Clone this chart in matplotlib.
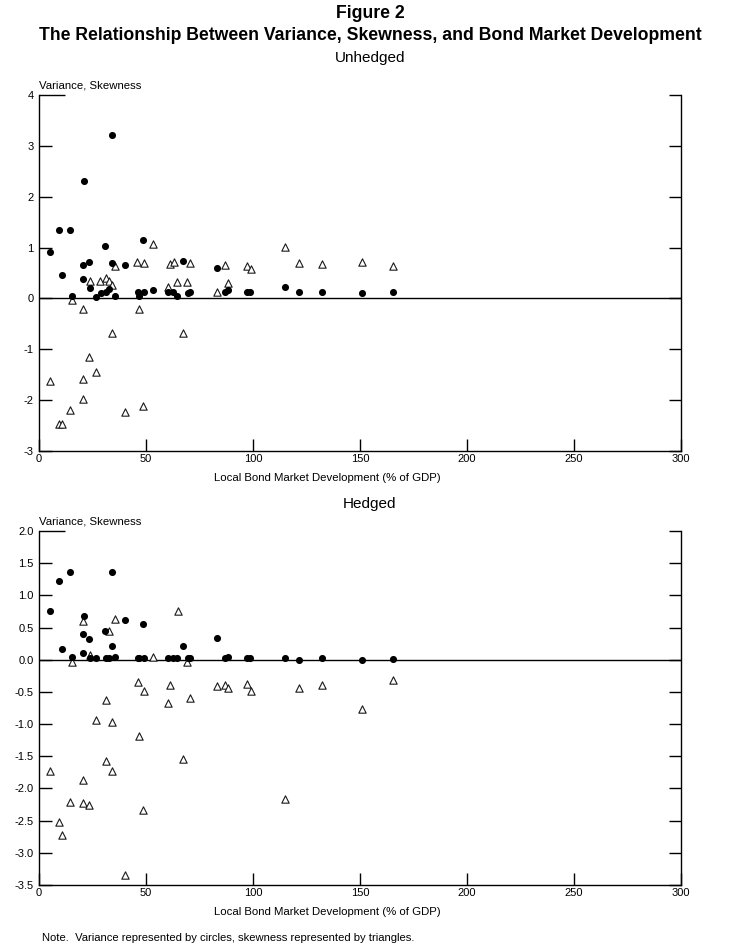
import matplotlib.pyplot as plt
import numpy as np

plt.rcParams['font.family'] = ['Liberation Sans', 'DejaVu Sans']

# unhedged: variance (circles)
unh_var_x = [5.3, 9.5, 10.6, 14.6, 15.3, 20.7, 20.7, 21.0, 23.4, 24.0, 26.8, 28.8, 31.0, 31.5,
             32.9, 34.0, 34.0, 35.7, 40.2, 46.1, 46.7, 48.4, 49.1, 53.1, 60.3, 62.8, 64.5, 67.1,
             69.8, 70.7, 83.0, 86.9, 88.5, 97.0, 98.6, 114.8, 121.6, 132.1, 151.1, 165.3]
unh_var_y = [0.92, 1.34, 0.46, 1.35, 0.04, 0.66, 0.39, 2.31, 0.72, 0.20, 0.03, 0.11, 1.03, 0.12,
             0.19, 3.22, 0.69, 0.04, 0.66, 0.12, 0.04, 1.15, 0.12, 0.16, 0.12, 0.12, 0.04, 0.73,
             0.10, 0.12, 0.60, 0.12, 0.16, 0.12, 0.12, 0.22, 0.12, 0.12, 0.10, 0.12]
# unhedged: skewness (triangles)
unh_skew_x = [5.3, 9.5, 10.6, 14.6, 15.3, 20.7, 20.7, 20.7, 23.4, 24.0, 26.6, 28.5, 31.3, 32.7,
              34.1, 34.1, 35.7, 40.2, 45.9, 46.9, 48.6, 49.1, 53.1, 60.3, 61.2, 63.2, 64.5, 67.1,
              69.0, 70.7, 83.0, 86.9, 88.5, 97.0, 98.9, 114.8, 121.6, 132.1, 151.1, 165.3]
unh_skew_y = [-1.62, -2.46, -2.47, -2.20, -0.03, -0.20, -1.58, -1.98, -1.16, 0.35, -1.44, 0.35,
              0.41, 0.35, 0.26, -0.67, 0.64, -2.23, 0.71, -0.20, -2.12, 0.69, 1.07, 0.22, 0.67,
              0.72, 0.32, -0.67, 0.32, 0.69, 0.12, 0.65, 0.31, 0.64, 0.58, 1.02, 0.69, 0.67, 0.71, 0.63]

# hedged: variance (circles)
hed_var_x = [5.3, 9.5, 10.6, 14.6, 15.3, 20.7, 20.7, 21.0, 23.4, 24.0, 26.8, 31.0, 31.5, 32.9,
             34.0, 34.0, 35.7, 40.2, 46.1, 46.7, 48.4, 49.1, 60.3, 62.8, 64.5, 67.1, 69.8, 70.7,
             83.0, 86.9, 88.5, 97.0, 98.6, 114.8, 121.6, 132.1, 151.1, 165.3]
hed_var_y = [0.75, 1.23, 0.16, 1.36, 0.04, 0.40, 0.11, 0.68, 0.32, 0.02, 0.02, 0.45, 0.02, 0.03,
             1.36, 0.22, 0.04, 0.62, 0.02, 0.02, 0.56, 0.02, 0.02, 0.02, 0.02, 0.22, 0.02, 0.02,
             0.34, 0.02, 0.04, 0.02, 0.02, 0.02, 0.00, 0.02, 0.00, 0.01]
# hedged: skewness (triangles)
hed_skew_x = [5.3, 9.5, 10.6, 14.6, 15.3, 20.7, 20.7, 20.7, 23.4, 24.0, 26.6, 31.3, 31.5, 32.9,
              34.1, 34.1, 35.7, 40.2, 46.4, 46.9, 48.6, 49.2, 53.1, 60.4, 61.4, 64.8, 67.1, 69.0,
              70.7, 83.0, 86.9, 88.5, 97.0, 98.9, 114.8, 121.6, 132.1, 151.1, 165.3]
hed_skew_y = [-1.73, -2.52, -2.73, -2.21, -0.03, 0.60, -1.87, -2.23, -2.26, 0.07, -0.93, -1.57,
              -0.62, 0.45, -0.96, -1.73, 0.64, -3.34, -0.34, -1.18, -2.33, -0.49, 0.05, -0.68,
              -0.40, 0.75, -1.54, -0.04, -0.60, -0.41, -0.40, -0.44, -0.37, -0.49, -2.16, -0.44,
              -0.40, -0.77, -0.32]

x_ticks = [0, 50, 100, 150, 200, 250, 300]
unh_yticks = [-3, -2, -1, 0, 1, 2, 3, 4]
unh_ylabels = ['-3', '-2', '-1', '0', '1', '2', '3', '4']
hed_yticks = [-3.5, -3.0, -2.5, -2.0, -1.5, -1.0, -0.5, 0.0, 0.5, 1.0, 1.5, 2.0]
hed_ylabels = ['-3.5', '-3.0', '-2.5', '-2.0', '-1.5', '-1.0', '-0.5', '0.0', '0.5', '1.0', '1.5', '2.0']

fig = plt.figure(figsize=(7.4, 9.49), dpi=100)
W, H = 740, 949


def panel(rect, vx, vy, sx, sy, yticks, ylabels, title, title_y, xlab_y):
    ax = fig.add_axes(rect)
    ax.axhline(0, color='black', lw=1.0, zorder=1)
    ax.scatter(sx, sy, marker='^', s=28, facecolor='white', edgecolor='#1a1a1a',
               linewidths=0.8, zorder=3)
    ax.scatter(vx, vy, marker='o', s=26, color='black', linewidths=0, zorder=4)
    ax.set_xlim(0, 300)
    ax.set_ylim(yticks[0], yticks[-1])
    ax.set_xticks(x_ticks)
    ax.set_yticks(yticks)
    ax.set_yticklabels(ylabels)
    ax.spines['top'].set_visible(False)
    for s in ['left', 'right', 'bottom']:
        ax.spines[s].set_linewidth(1.0)
    ax.tick_params(axis='both', direction='in', length=9, width=1.0, labelsize=8, pad=3)
    ax.tick_params(axis='y', right=True, pad=4)
    ax.tick_params(axis='x', pad=2)
    # longer tick at the top of the left axis
    ax.yaxis.get_major_ticks()[-1].tick1line.set_markersize(19)
    ax.annotate('Variance, Skewness', xy=(0, 1), xycoords='axes fraction',
                xytext=(0, 3), textcoords='offset points', ha='left', va='bottom', fontsize=8.2)
    fig.text(0.5, 1 - title_y / H, title, ha='center', va='center', fontsize=11)
    fig.text(327 / W, 1 - xlab_y / H, 'Local Bond Market Development (% of GDP)',
             ha='center', va='center', fontsize=8.2)
    return ax


panel([39 / W, 1 - 451 / H, 642 / W, 356 / H], unh_var_x, unh_var_y, unh_skew_x, unh_skew_y,
      unh_yticks, unh_ylabels, 'Unhedged', 58, 478)
panel([39 / W, 1 - 885 / H, 642 / W, 354 / H], hed_var_x, hed_var_y, hed_skew_x, hed_skew_y,
      hed_yticks, hed_ylabels, 'Hedged', 504, 912)

fig.text(0.5, 1 - 14 / H, 'Figure 2', ha='center', va='center', fontsize=12.7, fontweight='bold')
fig.text(0.5, 1 - 36 / H, 'The Relationship Between Variance, Skewness, and Bond Market Development',
         ha='center', va='center', fontsize=12.7, fontweight='bold')
fig.text(42 / W, 1 - 938 / H, 'Note.  Variance represented by circles, skewness represented by triangles.',
         ha='left', va='center', fontsize=8.1)

fig.savefig('out.png', dpi=100)
